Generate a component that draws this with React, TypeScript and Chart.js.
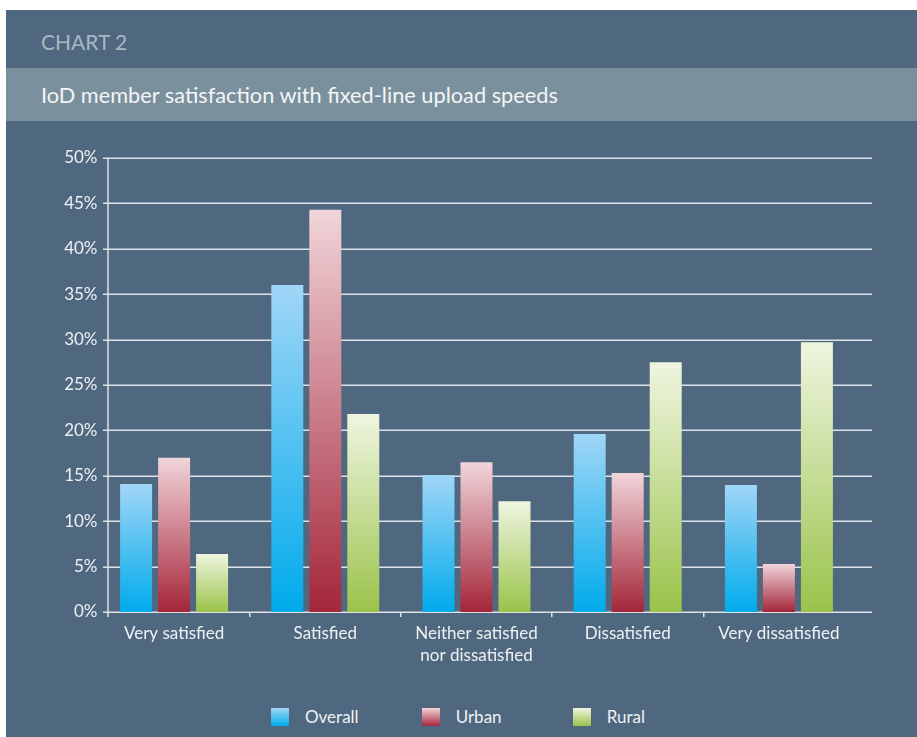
import React, { useEffect, useRef } from "react";
import { Chart, registerables } from "chart.js";

Chart.register(...registerables);

const categories: string[][] = [
  ["Very satisfied"],
  ["Satisfied"],
  ["Neither satisfied", "nor dissatisfied"],
  ["Dissatisfied"],
  ["Very dissatisfied"],
];
const overall = [14.1, 36.0, 15.1, 19.6, 14.0];
const urban = [17.0, 44.3, 16.5, 15.3, 5.3];
const rural = [6.4, 21.8, 12.2, 27.5, 29.7];
const seriesNames = ["Overall", "Urban", "Rural"];
const yMax = 50;
const yStep = 5;

const gradients: [string, string][] = [
  ["#a0d6f7", "#00abeb"],
  ["#f1d5da", "#a4263a"],
  ["#eff5e0", "#9ac34a"],
];

const FONT = "Lato, 'Open Sans', sans-serif";
const GRID = "#dce2e7";
const PANEL = "#4f687f";

const gridPlugin = {
  id: "customGrid",
  beforeDatasetsDraw(chart: any) {
    const { ctx, chartArea, scales } = chart;
    const y = scales.y;
    const axisX = chartArea.left + 9.5;
    const gridLeft = axisX - 5;
    const gridRight = chartArea.right + 17.5;
    ctx.save();
    ctx.strokeStyle = GRID;
    ctx.lineWidth = 1.5;
    for (let v = 0; v <= yMax; v += yStep) {
      const py = Math.round(y.getPixelForValue(v)) + 0.25;
      ctx.beginPath();
      ctx.moveTo(gridLeft, py);
      ctx.lineTo(gridRight, py);
      ctx.stroke();
    }
    ctx.beginPath();
    ctx.moveTo(axisX, y.getPixelForValue(yMax));
    ctx.lineTo(axisX, y.getPixelForValue(0) + 5);
    ctx.stroke();
    ctx.restore();
  },
};

function barGradient(idx: number) {
  return (c: any) => {
    const chart = c.chart;
    const [top, bottom] = gradients[idx];
    if (!chart.chartArea || c.type !== "data" || !chart.scales.y) return bottom;
    const yT = chart.scales.y.getPixelForValue(c.parsed.y);
    const yB = chart.scales.y.getPixelForValue(0);
    const g = chart.ctx.createLinearGradient(0, yT, 0, yB);
    g.addColorStop(0, top);
    g.addColorStop(1, bottom);
    return g;
  };
}

export default function App() {
  const ref = useRef<HTMLCanvasElement>(null);

  useEffect(() => {
    if (!ref.current) return;
    const data = [overall, urban, rural];
    const chart = new Chart(ref.current, {
      type: "bar",
      data: {
        labels: categories,
        datasets: data.map((d, i) => ({
          label: seriesNames[i],
          data: d,
          backgroundColor: barGradient(i),
          borderWidth: 0,
          categoryPercentage: 0.754,
          barPercentage: 0.842,
        })),
      },
      options: {
        animation: false,
        responsive: false,
        maintainAspectRatio: false,
        layout: { padding: { top: 37, right: 62.5, left: 0, bottom: 0 } },
        plugins: {
          legend: { display: false },
          tooltip: { enabled: false },
          title: { display: false },
        },
        scales: {
          x: {
            offset: true,
            border: { display: false },
            grid: {
              offset: true,
              drawOnChartArea: false,
              drawTicks: true,
              tickLength: 5,
              lineWidth: 1.5,
              color: (c: any) =>
                c.type === "tick" && c.index > 0 ? GRID : "rgba(0,0,0,0)",
            },
            ticks: {
              color: "#eef1f4",
              padding: 5,
              maxRotation: 0,
              autoSkip: false,
              font: { family: FONT, size: 17, lineHeight: 1.3 },
            },
            afterFit: (s: any) => {
              s.height = 70;
            },
          },
          y: {
            min: 0,
            max: yMax,
            border: { display: false },
            grid: { display: false, drawTicks: false },
            ticks: {
              stepSize: yStep,
              color: "#eef1f4",
              padding: 1,
              font: { family: FONT, size: 17 },
              callback: (v: any) => v + "%",
            },
            afterFit: (s: any) => {
              s.width = 92.5;
            },
          },
        },
      },
      plugins: [gridPlugin],
    });
    return () => chart.destroy();
  }, []);

  const legendPos = [265, 415.7, 566.7];

  return (
    <div
      style={{
        position: "absolute",
        left: 0,
        top: 0,
        width: 917,
        height: 737,
        background: "#ffffff",
        overflow: "hidden",
        fontFamily: FONT,
      }}
    >
      <div
        style={{
          position: "absolute",
          left: 6,
          top: 10,
          width: 911,
          height: 727,
          background: PANEL,
        }}
      >
        <div
          style={{
            position: "absolute",
            left: 35,
            top: 17,
            fontSize: 21,
            lineHeight: "30px",
            color: "#a9b7c3",
          }}
        >
          CHART 2
        </div>
        <div
          style={{
            position: "absolute",
            left: 0,
            top: 58,
            width: 911,
            height: 53,
            background: "#7b909d",
          }}
        >
          <div
            style={{
              position: "absolute",
              left: 35,
              top: 12,
              fontSize: 21.75,
              lineHeight: "30px",
              color: "#f3f5f7",
            }}
          >
            IoD member satisfaction with fixed-line upload speeds
          </div>
        </div>
        <canvas
          ref={ref}
          width={911}
          height={561}
          style={{ position: "absolute", left: 0, top: 111, width: 911, height: 561 }}
        />
        {seriesNames.map((n, i) => (
          <div
            key={n}
            style={{
              position: "absolute",
              left: legendPos[i],
              top: 698,
              height: 18,
              display: "flex",
              alignItems: "center",
            }}
          >
            <div
              style={{
                width: 18,
                height: 18,
                background: `linear-gradient(to bottom, ${gradients[i][0]}, ${gradients[i][1]})`,
              }}
            />
            <div
              style={{
                marginLeft: 16,
                fontSize: 17,
                color: "#eef1f4",
                lineHeight: "18px",
              }}
            >
              {n}
            </div>
          </div>
        ))}
      </div>
    </div>
  );
}
